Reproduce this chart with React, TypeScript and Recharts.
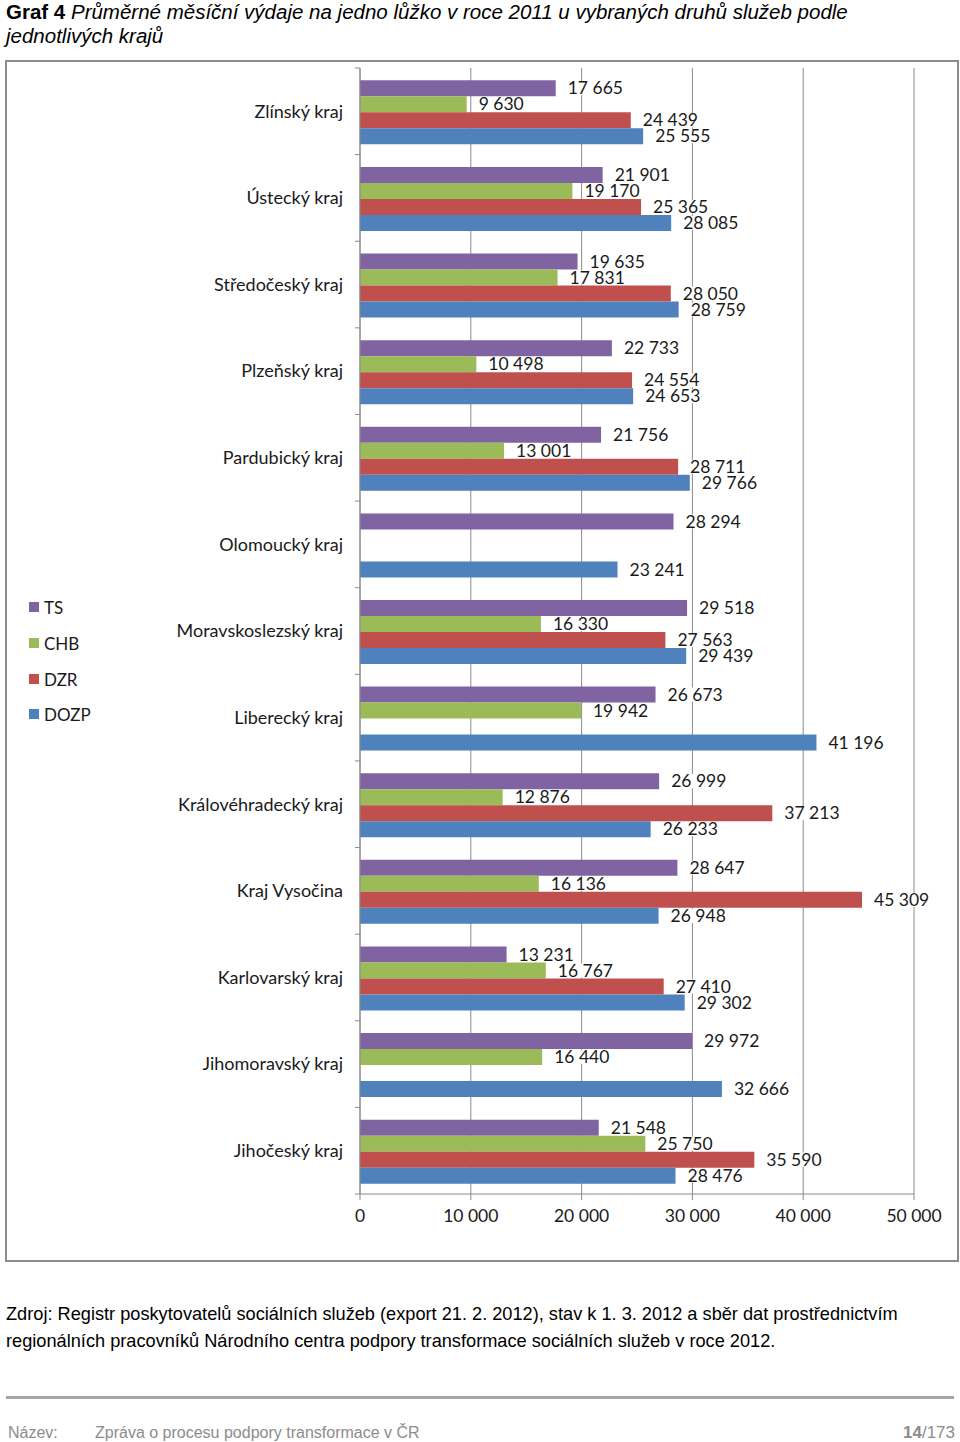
import { BarChart, Bar, XAxis, YAxis, CartesianGrid, LabelList } from 'recharts'

const kraje = [
  'Zlínský kraj',
  'Ústecký kraj',
  'Středočeský kraj',
  'Plzeňský kraj',
  'Pardubický kraj',
  'Olomoucký kraj',
  'Moravskoslezský kraj',
  'Liberecký kraj',
  'Královéhradecký kraj',
  'Kraj Vysočina',
  'Karlovarský kraj',
  'Jihomoravský kraj',
  'Jihočeský kraj',
]

const ts = [17665, 21901, 19635, 22733, 21756, 28294, 29518, 26673, 26999, 28647, 13231, 29972, 21548]
const chb = [9630, 19170, 17831, 10498, 13001, null, 16330, 19942, 12876, 16136, 16767, 16440, 25750]
const dzr = [24439, 25365, 28050, 24554, 28711, null, 27563, null, 37213, 45309, 27410, null, 35590]
const dozp = [25555, 28085, 28759, 24653, 29766, 23241, 29439, 41196, 26233, 26948, 29302, 32666, 28476]

const xTicks = [0, 10000, 20000, 30000, 40000, 50000]

const series = [
  { key: 'TS', name: 'TS', color: '#8064A2' },
  { key: 'CHB', name: 'CHB', color: '#9BBB59' },
  { key: 'DZR', name: 'DZR', color: '#C0504D' },
  { key: 'DOZP', name: 'DOZP', color: '#4F81BD' },
]

const data = kraje.map((kraj, i) => ({
  kraj,
  TS: ts[i],
  CHB: chb[i],
  DZR: dzr[i],
  DOZP: dozp[i],
}))

const CHART_W = 950
const CHART_H = 1198
const MARGIN = { top: 6, right: 43, left: 13, bottom: 36 }
const Y_W = 340
const AXIS_X = MARGIN.left + Y_W
const PLOT_H = CHART_H - MARGIN.top - MARGIN.bottom - 30
const BAND = PLOT_H / kraje.length

const FONT = 'Lato, "Open Sans", sans-serif'
const ARIAL = '"Liberation Sans", Arial, sans-serif'
const TXT = '#1a1a1a'

const fmt = (v: number) => {
  const s = Math.round(v).toString()
  return s.replace(/\B(?=(\d{3})+(?!\d))/g, ' ')
}

function KrajTick(props: any) {
  const { y, payload, index } = props
  const idx = payload?.index ?? index ?? 0
  return (
    <g>
      <line x1={AXIS_X - 5} x2={AXIS_X} y1={y - BAND / 2} y2={y - BAND / 2} stroke="#8a8a8a" />
      {idx === kraje.length - 1 && (
        <line x1={AXIS_X - 5} x2={AXIS_X} y1={y + BAND / 2} y2={y + BAND / 2} stroke="#8a8a8a" />
      )}
      <text x={AXIS_X - 17} y={y} dy="0.35em" textAnchor="end" fontFamily={FONT} fontSize={18} fill={TXT}>
        {payload.value}
      </text>
    </g>
  )
}

function ValueLabel(props: any) {
  const { x, y, width, height, value } = props
  if (value == null) return null
  const t = fmt(value)
  const lx = x + width + 12
  const cy = y + height / 2
  const w = t.length * 9.5
  return (
    <g>
      <rect x={lx - 2} y={cy - 7} width={w + 4} height={14} fill="#ffffff" />
      <text x={lx} y={cy} dy="0.35em" fontFamily={FONT} fontSize={17.5} fill={TXT}>
        {t}
      </text>
    </g>
  )
}

export default function App() {
  return (
    <div style={{ position: 'absolute', left: 0, top: 0, width: 960, height: 1442, background: '#fff' }}>
      <div
        style={{
          position: 'absolute',
          left: 6,
          top: 0,
          width: 950,
          fontFamily: ARIAL,
          fontSize: 20.5,
          lineHeight: '24px',
          color: '#000',
          whiteSpace: 'nowrap',
        }}
      >
        <b>Graf 4</b> <i>Průměrné měsíční výdaje na jedno lůžko v roce 2011 u vybraných druhů služeb podle</i>
        <br />
        <i>jednotlivých krajů</i>
      </div>

      <div
        style={{
          position: 'absolute',
          left: 5,
          top: 60,
          width: 950,
          height: 1198,
          border: '2px solid #8c8c8c',
        }}
      />

      <div style={{ position: 'absolute', left: 7, top: 62 }}>
        <BarChart
          width={CHART_W}
          height={CHART_H}
          data={data}
          layout="vertical"
          margin={MARGIN}
          barCategoryGap="14.2%"
          barGap={0}
        >
          <CartesianGrid horizontal={false} vertical stroke="#8a8a8a" />
          <XAxis
            type="number"
            domain={[0, 50000]}
            ticks={xTicks}
            tickFormatter={fmt}
            stroke="#8a8a8a"
            tickSize={6}
            tickMargin={10}
            height={30}
            tick={{ fontFamily: FONT, fontSize: 17.5, fill: TXT }}
          />
          <YAxis
            type="category"
            dataKey="kraj"
            width={Y_W}
            stroke="#8a8a8a"
            tickLine={false}
            tick={<KrajTick />}
            interval={0}
          />
          {series.map((s) => (
            <Bar key={s.key} dataKey={s.key} name={s.name} fill={s.color} isAnimationActive={false}>
              <LabelList dataKey={s.key} content={<ValueLabel />} />
            </Bar>
          ))}
        </BarChart>
      </div>

      {series.map((s, i) => (
        <div
          key={s.key}
          style={{
            position: 'absolute',
            left: 29,
            top: [607, 643, 679, 714][i] - 11,
            height: 22,
            display: 'flex',
            alignItems: 'center',
            fontFamily: FONT,
            fontSize: 17,
            color: TXT,
          }}
        >
          <span style={{ display: 'inline-block', width: 10, height: 10, background: s.color, marginRight: 5 }} />
          {s.name}
        </div>
      ))}

      <div
        style={{
          position: 'absolute',
          left: 6,
          top: 1301,
          width: 950,
          fontFamily: ARIAL,
          fontSize: 18.2,
          lineHeight: '27px',
          color: '#000',
          whiteSpace: 'nowrap',
        }}
      >
        Zdroj: Registr poskytovatelů sociálních služeb (export 21. 2. 2012), stav k 1. 3. 2012 a sběr dat prostřednictvím
        <br />
        regionálních pracovníků Národního centra podpory transformace sociálních služeb v roce 2012.
      </div>

      <div style={{ position: 'absolute', left: 6, top: 1396, width: 948, height: 3, background: '#a6a6a6' }} />

      <div
        style={{
          position: 'absolute',
          left: 8,
          top: 1423,
          width: 947,
          fontFamily: ARIAL,
          fontSize: 16,
          color: '#8c8c8c',
          display: 'flex',
          alignItems: 'baseline',
        }}
      >
        <span style={{ width: 87 }}>Název:</span>
        <span style={{ flex: 1 }}>Zpráva o procesu podpory transformace v ČR</span>
        <span style={{ fontSize: 17 }}>
          <b>14</b>/173
        </span>
      </div>
    </div>
  )
}
